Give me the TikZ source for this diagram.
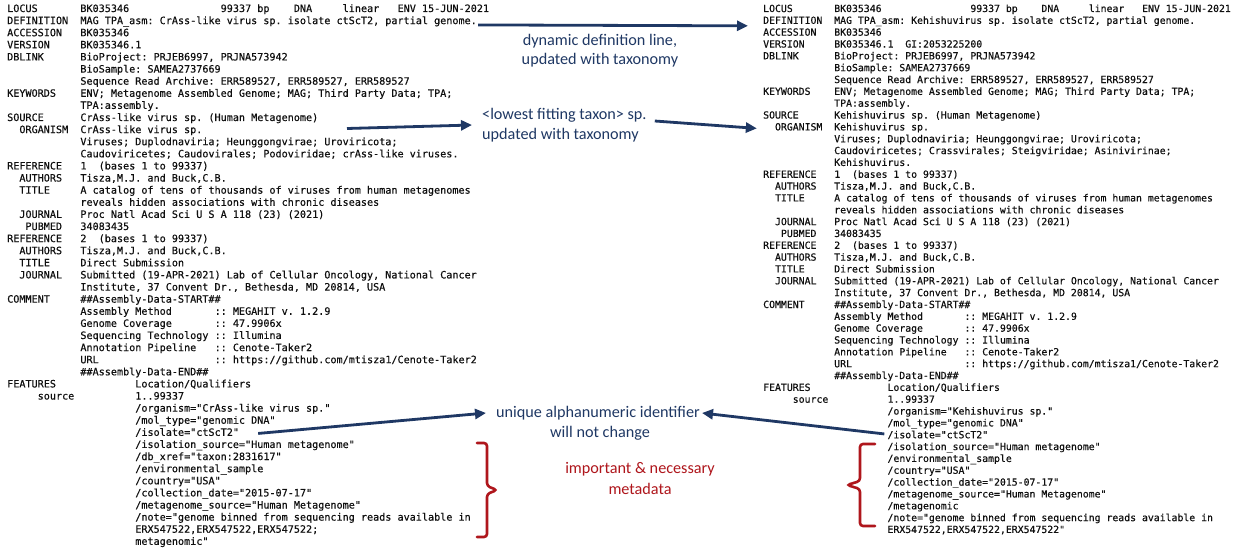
\documentclass[tikz,border=0pt]{standalone}
\usepackage{fontspec}
\setmonofont{DejaVu Sans Mono}[FakeBold=0.35]
\newfontfamily\calib{Carlito}
\usetikzlibrary{arrows.meta,calc}
\definecolor{navy}{RGB}{31,56,100}
\definecolor{darkred}{RGB}{175,22,28}
\definecolor{ink}{RGB}{15,15,15}
\tikzset{
 lmono/.style={anchor=base west, inner sep=0pt, font=\ttfamily\fontsize{10.13}{12}\selectfont, text=ink},
 rmono/.style={anchor=base west, inner sep=0pt, font=\ttfamily\fontsize{9.83}{12}\selectfont, text=ink},
 note/.style={inner sep=0pt, font=\calib\fontsize{16.2}{19}\selectfont, text=navy},
 rnote/.style={note, text=darkred},
 conn/.style={draw=navy, line width=2.8pt, -{Triangle[length=11pt,width=10pt]}},
 bracestyle/.style={draw=darkred, line width=2.6pt, rounded corners=3pt, line cap=round},
}
\newcommand\GL[4]{\node[lmono] (L#1#2) at ({7+#3*6.1},{12+(#1-1)*12.11}) {#4};}
\newcommand\GR[4]{\node[rmono] (R#1#2) at ({763+#3*5.92},{12+(#1-1)*11.84}) {#4};}
\begin{document}
\begin{tikzpicture}[x=1pt,y=-1pt]
\fill[white] (0,0) rectangle (1248,551);
\useasboundingbox (0,0) rectangle (1248,551);
% ---------------- left record ----------------
\GL{1}{a}{0}{LOCUS}\GL{1}{b}{12}{BK035346}\GL{1}{c}{35}{99337 bp}\GL{1}{d}{47}{DNA}\GL{1}{e}{55}{linear}\GL{1}{f}{64}{ENV 15-JUN-2021}
\GL{2}{a}{0}{DEFINITION}\GL{2}{b}{12}{MAG TPA\_asm: CrAss-like virus sp. isolate ctScT2, partial genome.}
\GL{3}{a}{0}{ACCESSION}\GL{3}{b}{12}{BK035346}
\GL{4}{a}{0}{VERSION}\GL{4}{b}{12}{BK035346.1}
\GL{5}{a}{0}{DBLINK}\GL{5}{b}{12}{BioProject: PRJEB6997, PRJNA573942}
\GL{6}{b}{12}{BioSample: SAMEA2737669}
\GL{7}{b}{12}{Sequence Read Archive: ERR589527, ERR589527, ERR589527}
\GL{8}{a}{0}{KEYWORDS}\GL{8}{b}{12}{ENV; Metagenome Assembled Genome; MAG; Third Party Data; TPA;}
\GL{9}{b}{12}{TPA:assembly.}
\GL{10}{a}{0}{SOURCE}\GL{10}{b}{12}{CrAss-like virus sp. (Human Metagenome)}
\GL{11}{a}{2}{ORGANISM}\GL{11}{b}{12}{CrAss-like virus sp.}
\GL{12}{b}{12}{Viruses; Duplodnaviria; Heunggongvirae; Uroviricota;}
\GL{13}{b}{12}{Caudoviricetes; Caudovirales; Podoviridae; crAss-like viruses.}
\GL{14}{a}{0}{REFERENCE}\GL{14}{b}{12}{1}\GL{14}{c}{15}{(bases 1 to 99337)}
\GL{15}{a}{2}{AUTHORS}\GL{15}{b}{12}{Tisza,M.J. and Buck,C.B.}
\GL{16}{a}{2}{TITLE}\GL{16}{b}{12}{A catalog of tens of thousands of viruses from human metagenomes}
\GL{17}{b}{12}{reveals hidden associations with chronic diseases}
\GL{18}{a}{2}{JOURNAL}\GL{18}{b}{12}{Proc Natl Acad Sci U S A 118 (23) (2021)}
\GL{19}{a}{3}{PUBMED}\GL{19}{b}{12}{34083435}
\GL{20}{a}{0}{REFERENCE}\GL{20}{b}{12}{2}\GL{20}{c}{15}{(bases 1 to 99337)}
\GL{21}{a}{2}{AUTHORS}\GL{21}{b}{12}{Tisza,M.J. and Buck,C.B.}
\GL{22}{a}{2}{TITLE}\GL{22}{b}{12}{Direct Submission}
\GL{23}{a}{2}{JOURNAL}\GL{23}{b}{12}{Submitted (19-APR-2021) Lab of Cellular Oncology, National Cancer}
\GL{24}{b}{12}{Institute, 37 Convent Dr., Bethesda, MD 20814, USA}
\GL{25}{a}{0}{COMMENT}\GL{25}{b}{12}{\#\#Assembly-Data-START\#\#}
\GL{26}{b}{12}{Assembly Method}\GL{26}{c}{34}{:: MEGAHIT v. 1.2.9}
\GL{27}{b}{12}{Genome Coverage}\GL{27}{c}{34}{:: 47.9906x}
\GL{28}{b}{12}{Sequencing Technology}\GL{28}{c}{34}{:: Illumina}
\GL{29}{b}{12}{Annotation Pipeline}\GL{29}{c}{34}{:: Cenote-Taker2}
\GL{30}{b}{12}{URL}\GL{30}{c}{34}{:: https://github.com/mtisza1/Cenote-Taker2}
\GL{31}{b}{12}{\#\#Assembly-Data-END\#\#}
\GL{32}{a}{0}{FEATURES}\GL{32}{b}{21}{Location/Qualifiers}
\GL{33}{a}{5}{source}\GL{33}{b}{21}{1..99337}
\GL{34}{b}{21}{/organism="CrAss-like virus sp."}
\GL{35}{b}{21}{/mol\_type="genomic DNA"}
\GL{36}{b}{21}{/isolate="ctScT2"}
\GL{37}{b}{21}{/isolation\_source="Human metagenome"}
\GL{38}{b}{21}{/db\_xref="taxon:2831617"}
\GL{39}{b}{21}{/environmental\_sample}
\GL{40}{b}{21}{/country="USA"}
\GL{41}{b}{21}{/collection\_date="2015-07-17"}
\GL{42}{b}{21}{/metagenome\_source="Human Metagenome"}
\GL{43}{b}{21}{/note="genome binned from sequencing reads available in}
\GL{44}{b}{21}{ERX547522,ERX547522,ERX547522;}
\GL{45}{b}{21}{metagenomic"}
% ---------------- right record ----------------
\GR{1}{a}{0}{LOCUS}\GR{1}{b}{12}{BK035346}\GR{1}{c}{35}{99337 bp}\GR{1}{d}{47}{DNA}\GR{1}{e}{55}{linear}\GR{1}{f}{64}{ENV 15-JUN-2021}
\GR{2}{a}{0}{DEFINITION}\GR{2}{b}{12}{MAG TPA\_asm: Kehishuvirus sp. isolate ctScT2, partial genome.}
\GR{3}{a}{0}{ACCESSION}\GR{3}{b}{12}{BK035346}
\GR{4}{a}{0}{VERSION}\GR{4}{b}{12}{BK035346.1}\GR{4}{c}{24}{GI:2053225200}
\GR{5}{a}{0}{DBLINK}\GR{5}{b}{12}{BioProject: PRJEB6997, PRJNA573942}
\GR{6}{b}{12}{BioSample: SAMEA2737669}
\GR{7}{b}{12}{Sequence Read Archive: ERR589527, ERR589527, ERR589527}
\GR{8}{a}{0}{KEYWORDS}\GR{8}{b}{12}{ENV; Metagenome Assembled Genome; MAG; Third Party Data; TPA;}
\GR{9}{b}{12}{TPA:assembly.}
\GR{10}{a}{0}{SOURCE}\GR{10}{b}{12}{Kehishuvirus sp. (Human Metagenome)}
\GR{11}{a}{2}{ORGANISM}\GR{11}{b}{12}{Kehishuvirus sp.}
\GR{12}{b}{12}{Viruses; Duplodnaviria; Heunggongvirae; Uroviricota;}
\GR{13}{b}{12}{Caudoviricetes; Crassvirales; Steigviridae; Asinivirinae;}
\GR{14}{b}{12}{Kehishuvirus.}
\GR{15}{a}{0}{REFERENCE}\GR{15}{b}{12}{1}\GR{15}{c}{15}{(bases 1 to 99337)}
\GR{16}{a}{2}{AUTHORS}\GR{16}{b}{12}{Tisza,M.J. and Buck,C.B.}
\GR{17}{a}{2}{TITLE}\GR{17}{b}{12}{A catalog of tens of thousands of viruses from human metagenomes}
\GR{18}{b}{12}{reveals hidden associations with chronic diseases}
\GR{19}{a}{2}{JOURNAL}\GR{19}{b}{12}{Proc Natl Acad Sci U S A 118 (23) (2021)}
\GR{20}{a}{3}{PUBMED}\GR{20}{b}{12}{34083435}
\GR{21}{a}{0}{REFERENCE}\GR{21}{b}{12}{2}\GR{21}{c}{15}{(bases 1 to 99337)}
\GR{22}{a}{2}{AUTHORS}\GR{22}{b}{12}{Tisza,M.J. and Buck,C.B.}
\GR{23}{a}{2}{TITLE}\GR{23}{b}{12}{Direct Submission}
\GR{24}{a}{2}{JOURNAL}\GR{24}{b}{12}{Submitted (19-APR-2021) Lab of Cellular Oncology, National Cancer}
\GR{25}{b}{12}{Institute, 37 Convent Dr., Bethesda, MD 20814, USA}
\GR{26}{a}{0}{COMMENT}\GR{26}{b}{12}{\#\#Assembly-Data-START\#\#}
\GR{27}{b}{12}{Assembly Method}\GR{27}{c}{34}{:: MEGAHIT v. 1.2.9}
\GR{28}{b}{12}{Genome Coverage}\GR{28}{c}{34}{:: 47.9906x}
\GR{29}{b}{12}{Sequencing Technology}\GR{29}{c}{34}{:: Illumina}
\GR{30}{b}{12}{Annotation Pipeline}\GR{30}{c}{34}{:: Cenote-Taker2}
\GR{31}{b}{12}{URL}\GR{31}{c}{34}{:: https://github.com/mtisza1/Cenote-Taker2}
\GR{32}{b}{12}{\#\#Assembly-Data-END\#\#}
\GR{33}{a}{0}{FEATURES}\GR{33}{b}{21}{Location/Qualifiers}
\GR{34}{a}{5}{source}\GR{34}{b}{21}{1..99337}
\GR{35}{b}{21}{/organism="Kehishuvirus sp."}
\GR{36}{b}{21}{/mol\_type="genomic DNA"}
\GR{37}{b}{21}{/isolate="ctScT2"}
\GR{38}{b}{21}{/isolation\_source="Human metagenome"}
\GR{39}{b}{21}{/environmental\_sample}
\GR{40}{b}{21}{/country="USA"}
\GR{41}{b}{21}{/collection\_date="2015-07-17"}
\GR{42}{b}{21}{/metagenome\_source="Human Metagenome"}
\GR{43}{b}{21}{/metagenomic}
\GR{44}{b}{21}{/note="genome binned from sequencing reads available in}
\GR{45}{b}{21}{ERX547522,ERX547522,ERX547522"}
% ---------------- annotations ----------------
\node[note] (dyn1) at (600,41) {dynamic definition line,};
\node[note] (dyn2) at (600,60) {updated with taxonomy};
\node[note, anchor=west] (low1) at (482,115) {<lowest fitting taxon> sp.};
\node[note, anchor=west] (low2) at (482,135) {updated with taxonomy};
\node[note] (uni1) at (598,413) {unique alphanumeric identifier};
\node[note] (uni2) at (600,433) {will not change};
\node[rnote] (imp1) at (640,469) {important \& necessary};
\node[rnote] (imp2) at (640,489) {metadata};
% ---------------- connectors ----------------
\coordinate (a2s) at (347,128.5);
\draw[conn] ([xshift=1pt,yshift=-3.5pt]L2b.east) -- ([xshift=-15pt,yshift=-2pt]R2a.base west);
\draw[conn] (a2s) -- ($(low1.west)!.5!(low2.west)+(-10,0)$);
\draw[conn] ($(low1.east)+(8,6)$) -- ([xshift=-18pt,yshift=2pt]R11a.base west);
\draw[conn] ([xshift=19pt,yshift=-1pt]L36b.east) -- ([xshift=-10pt]uni1.west);
\draw[conn] ([xshift=-3pt,yshift=1pt]R37b.west) -- ([xshift=2pt]uni1.east);
% ---------------- braces ----------------
\draw[bracestyle] (477,443) -- (487,443) -- (487,486) -- (497,490) -- (487,494) -- (487,537) -- (477,537);
\draw[bracestyle] (875,444) -- (860,444) -- (860,481) -- (847,485) -- (860,489) -- (860,526) -- (875,526);
\end{tikzpicture}
\end{document}
